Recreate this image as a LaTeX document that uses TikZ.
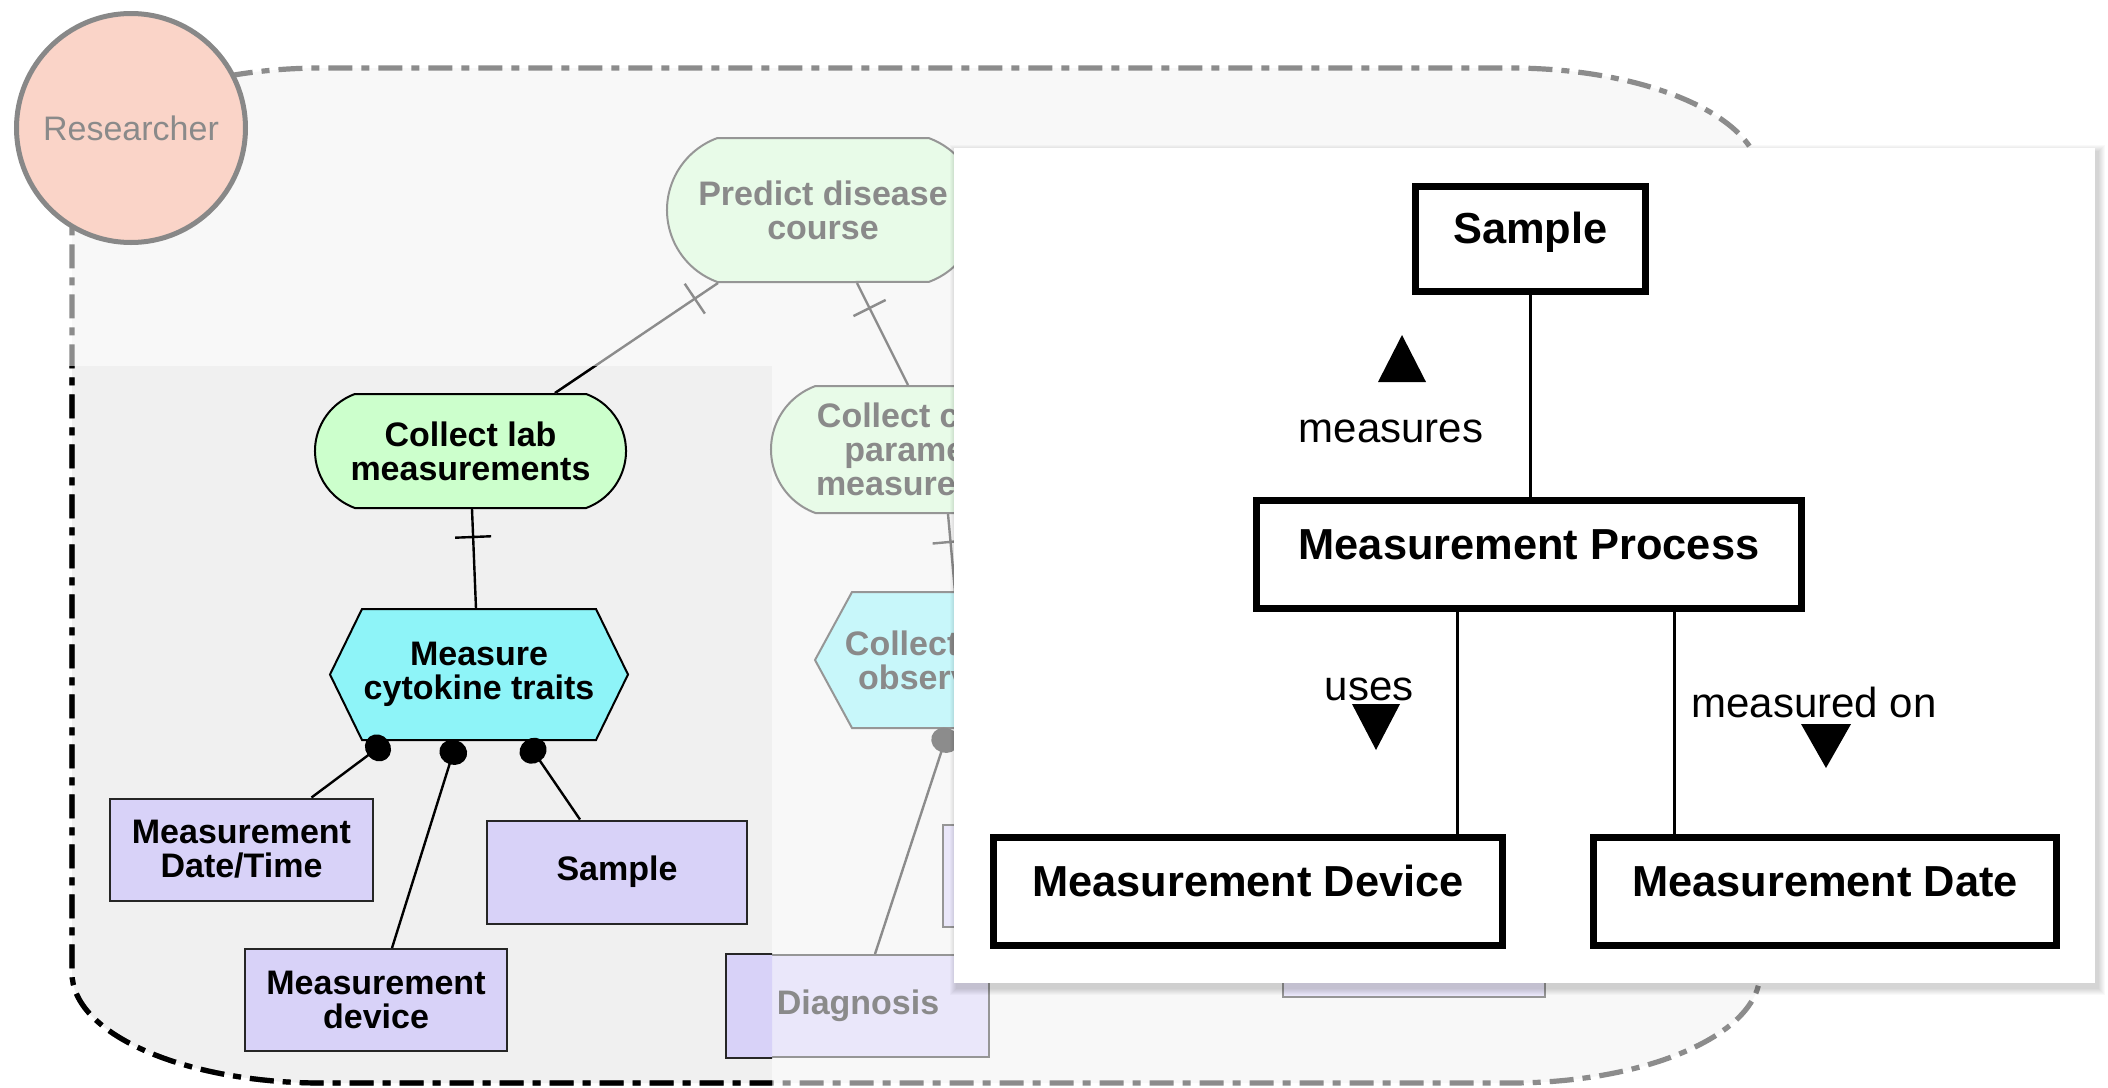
\documentclass[tikz,border=0pt]{standalone}
\usepackage{fontspec}
\setmainfont{Liberation Sans}
\usetikzlibrary{shapes.misc,arrows.meta,calc,decorations.markings}
\definecolor{bgin}{RGB}{248,248,248}
\definecolor{panelbg}{RGB}{240,240,240}
\definecolor{resfill}{RGB}{250,212,200}
\definecolor{resline}{RGB}{136,136,136}
\definecolor{greenv}{RGB}{204,255,204}
\definecolor{greenf}{RGB}{232,251,232}
\definecolor{cyanv}{RGB}{142,244,248}
\definecolor{cyanf}{RGB}{200,247,250}
\definecolor{lavv}{RGB}{216,210,248}
\definecolor{lavf}{RGB}{234,231,250}
\definecolor{fadetxt}{RGB}{138,138,138}
\definecolor{fadeline}{RGB}{140,140,140}
\definecolor{fadeborder}{RGB}{150,150,150}
\definecolor{dashgray}{RGB}{140,140,140}
\newcommand\panelfnt{\fontsize{17pt}{17pt}\selectfont\bfseries}
\newcommand\resfnt{\fontsize{17pt}{17pt}\selectfont}
\newcommand\ovfnt{\fontsize{21.7pt}{26pt}\selectfont\bfseries}
\newcommand\labfnt{\fontsize{21pt}{25pt}\selectfont}
\begin{document}
\begin{tikzpicture}[x=0.5pt,y=-0.5pt,
  pillbase/.style={rounded rectangle, rounded rectangle arc length=140, inner sep=0pt, align=center, font=\panelfnt, line width=1pt},
  pillv/.style={pillbase, fill=greenv, draw=black},
  pillf/.style={pillbase, fill=greenf, draw=fadeborder, text=fadetxt},
  hexnode/.style={rectangle, inner sep=0pt, align=center, font=\panelfnt},
  hexpathv/.style={fill=cyanv, draw=black, line width=1pt},
  hexpathf/.style={fill=cyanf, draw=fadeborder, line width=1pt},
  boxbase/.style={rectangle, inner sep=0pt, align=center, font=\panelfnt, line width=1pt},
  boxv/.style={boxbase, fill=lavv, draw=black!85},
  boxf/.style={boxbase, fill=lavf, draw=fadeborder, text=fadetxt},
  linkv/.style={draw=black, line width=1.2pt},
  linkf/.style={draw=fadeline, line width=1.2pt},
  onetick/.style={postaction={decorate, decoration={markings, mark=at position 14pt with {\draw[#1, line width=1.2pt] (0,-18) -- (0,18);}}}},
  balltip/.style={-{Circle[length=12.5pt, width=14pt]}},
  ovbox/.style={rectangle, draw=black, line width=3.5pt, fill=white, font=\ovfnt, text height=0.75em, text depth=0.27em, inner sep=0pt},
  ovline/.style={draw=black, line width=1.5pt},
  ovlab/.style={font=\labfnt, inner sep=0pt},
  bound/.style={line width=2.6pt, dash pattern=on 12pt off 4.5pt on 4pt off 4.5pt},
  bpath/.style={insert path={(72,178) arc[start angle=180, end angle=270, x radius=250, y radius=110] -- (1510,68) arc[start angle=270, end angle=360, x radius=250, y radius=110] -- (1760,973) arc[start angle=0, end angle=90, x radius=250, y radius=110] -- (322,1083) arc[start angle=90, end angle=180, x radius=250, y radius=110] -- cycle}},
]
\useasboundingbox (0,0) rectangle (2108,1087);
\fill[white] (0,0) rectangle (2108,1087);
% boundary area
\fill[bgin, bpath];
\begin{scope}
  \clip[bpath];
  \fill[panelbg] (40,366) rectangle (772,1100);
\end{scope}

% faded nodes
\node[pillf, minimum width=156pt, minimum height=72pt] (predict) at (823,210) {Predict disease\\course};
\node[pillf, minimum width=165pt, minimum height=63.5pt] (clin) at (936,449.5) {Collect clinical\\parameters\\measurements};
\coordinate (obsc) at (964,660);
\filldraw[hexpathf] ($(obsc)+(-149,0)$) -- ($(obsc)+(-112,-68)$) -- ($(obsc)+(112,-68)$) -- ($(obsc)+(149,0)$) -- ($(obsc)+(112,68)$) -- ($(obsc)+(-112,68)$) -- cycle;
\node[hexnode, text=fadetxt, minimum width=149pt, minimum height=68pt] (obs) at (obsc) {Collect clinical\\observations};
\node[boxf, minimum width=131pt, minimum height=51pt] (diag) at (858,1006) {Diagnosis};
\node[boxf, minimum width=130pt, minimum height=51pt] (hidA) at (1073,876) {};
\node[boxf, minimum width=131pt, minimum height=51pt] (hidB) at (1414,946) {};

% vivid nodes
\node[pillv, minimum width=155.5pt, minimum height=57pt] (lab) at (470.5,451) {Collect lab\\measurements};
\coordinate (hexc) at (479,674.5);
\filldraw[hexpathv] ($(hexc)+(-149,0)$) -- ($(hexc)+(-117,-65.5)$) -- ($(hexc)+(117,-65.5)$) -- ($(hexc)+(149,0)$) -- ($(hexc)+(117,65.5)$) -- ($(hexc)+(-117,65.5)$) -- cycle;
\node[hexnode, minimum width=149pt, minimum height=65.5pt] (hex) at (hexc) {Measure\\cytokine traits};
\node[boxv, minimum width=131.5pt, minimum height=51pt] (dt) at (241.5,849.5) {Measurement\\Date/Time};
\node[boxv, minimum width=130pt, minimum height=51.5pt] (smp) at (617,872) {Sample};
\node[boxv, minimum width=131pt, minimum height=51pt] (dev) at (376,1000) {Measurement\\device};

% faded connectors
\draw[linkf, onetick=fadeline] ($(predict.south)+(-105,0)$) -- ($(lab.north)+(84.5,0)$);
\draw[linkf, onetick=fadeline] ($(predict.south)+(34,0)$) -- ($(clin.north)+(-28,0)$);
\draw[linkf, onetick=fadeline] ($(clin.south)+(12,0)$) -- ($(obs.north)+(-9,0)$);
\draw[linkf, balltip] ($(diag.north)+(17,0)$) -- ($(obs.south)+(-15,0)$);

% vivid connectors
\draw[linkv, onetick=black] ($(lab.south)+(1.5,0)$) -- ($(hex.north)+(-3,0)$);
\draw[linkv, balltip] ($(dt.north)+(70,0)$) -- ($(hex.south)+(-91,0)$);
\draw[linkv, balltip] ($(dev.north)+(16,0)$) -- ($(hex.south)+(-22,0)$);
\draw[linkv, balltip] ($(smp.north)+(-37,0)$) -- ($(hex.south)+(47,0)$);

% parts inside the highlighted panel
\begin{scope}
  \clip (0,366) rectangle (772,1087);
  \draw[linkv] ($(predict.south)+(-105,0)$) -- ($(lab.north)+(84.5,0)$);
  \filldraw[fill=lavv, draw=black!85, line width=1pt] (diag.north west) rectangle (diag.south east);
\end{scope}

% dashed boundary
\draw[bound, dashgray, bpath];
\begin{scope}
  \clip (0,366) rectangle (772,1087);
  \draw[bound, black, bpath];
\end{scope}

% researcher
\node[circle, minimum size=114.5pt, inner sep=0pt, fill=resfill, draw=resline, line width=2.5pt, text=fadetxt, font=\resfnt] (res) at (131,128) {Researcher};

% overlay panel with soft shadow
\foreach \i in {1,...,7} {
  \fill[black, opacity=0.025] (954+3-\i,148+4-\i) rectangle (2095+3+\i,983+5+\i);
}
\node[fill=white, minimum width=570.5pt, minimum height=417.5pt, inner sep=0pt] (ov) at (1524.5,565.5) {};

\node[ovbox, minimum width=115pt, minimum height=52.5pt] (osmp) at (1530.5,239) {Sample};
\node[ovbox, minimum width=272.5pt, minimum height=54pt] (omp) at (1529,554.5) {Measurement Process};
\node[ovbox, minimum width=254.5pt, minimum height=54pt] (odev) at (1248,891.5) {Measurement Device};
\node[ovbox, minimum width=231.5pt, minimum height=54pt] (odate) at (1825,891.5) {Measurement Date};

\draw[ovline] (osmp.south) -- (osmp.south |- omp.north);
\coordinate (odA) at ($(omp.south)+(-72,0)$);
\draw[ovline] (odA) -- (odA |- odev.north);
\coordinate (odB) at ($(omp.south)+(145,0)$);
\draw[ovline] (odB) -- (odB |- odate.north);

\node[ovlab] (lmeas) at (1391,431) {measures};
\node[ovlab] (luses) at (1369,689) {uses};
\node[ovlab] (lmon) at (1814,702) {measured on};
\fill ($(lmeas)+(11,-96)$) -- ($(lmeas)+(35,-49)$) -- ($(lmeas)+(-13,-49)$) -- cycle;
\fill ($(luses)+(-17,15)$) -- ($(luses)+(31,15)$) -- ($(luses)+(7,61)$) -- cycle;
\fill ($(lmon)+(-13,22)$) -- ($(lmon)+(37,22)$) -- ($(lmon)+(12,66)$) -- cycle;
\end{tikzpicture}
\end{document}
